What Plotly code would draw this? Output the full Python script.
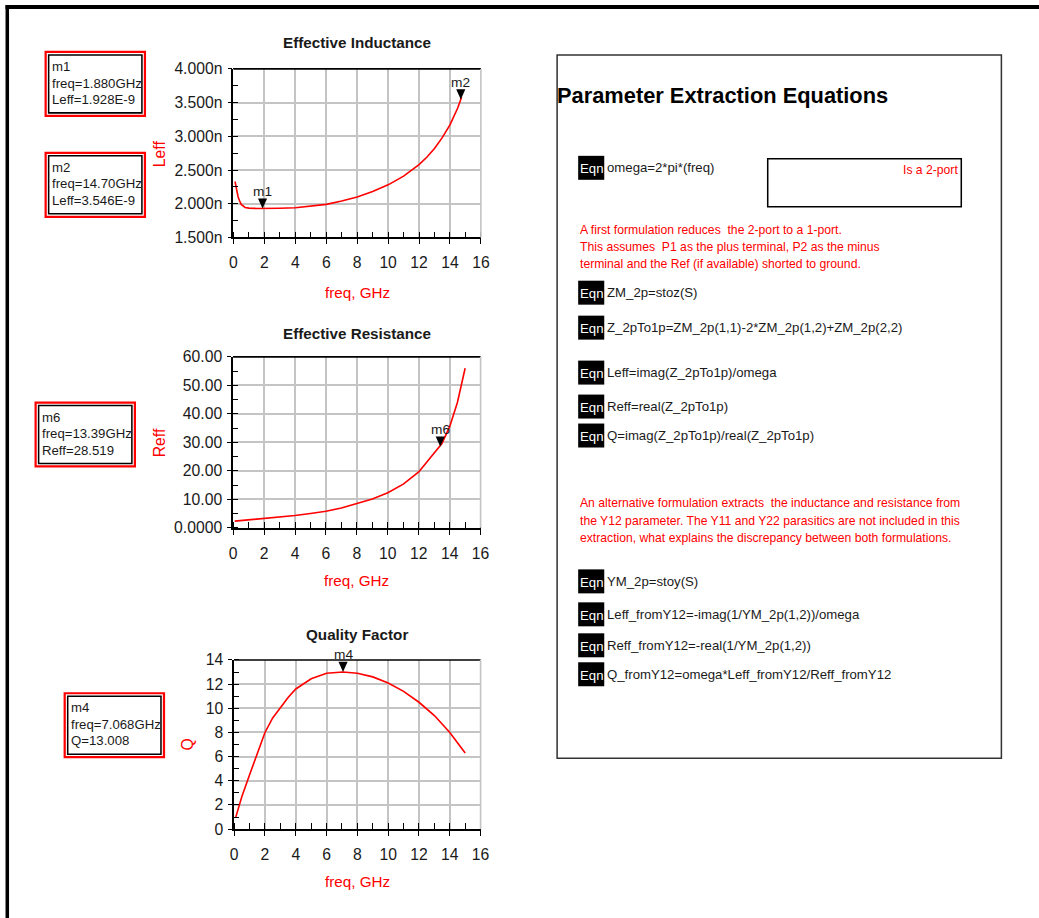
import plotly.graph_objects as go

W, H = 1039, 918            # layout coordinate space (pixels)
PAGE_W, PAGE_H = 1055, 934  # plot div size on the page
K = PAGE_W / W              # pixel sizes are scaled by this factor
DX = 2.5                    # horizontal nudge of the whole layout
FONT = "Liberation Sans, Arial, sans-serif"
RED = "#ff0000"
GRID = "#c4c4c4"
INK = "#1a1a1a"

# ---------------- data ----------------
freq_L = [0.1, 0.2, 0.3, 0.4, 0.5, 0.75, 1.0, 1.5, 2.0, 2.5, 3.0, 4.0, 5.0, 6.0, 7.0,
          8.0, 9.0, 10.0, 11.0, 12.0, 12.5, 13.0, 13.5, 14.0, 14.5, 14.75]
leff_nH = [2.33, 2.20, 2.10, 2.04, 1.99, 1.945, 1.935, 1.930, 1.928, 1.930, 1.933, 1.940,
           1.960, 1.990, 2.040, 2.100, 2.180, 2.280, 2.410, 2.580, 2.690, 2.820, 2.980,
           3.170, 3.420, 3.580]

freq_R = [0.1, 0.5, 1.0, 2.0, 3.0, 4.0, 5.0, 6.0, 7.0, 8.0, 9.0, 10.0, 11.0, 12.0,
          12.5, 13.0, 13.5, 14.0, 14.5, 15.0]
reff_ohm = [2.3, 2.5, 2.7, 3.1, 3.6, 4.3, 5.0, 5.8, 6.9, 8.4, 10.1, 12.3, 15.3, 19.6,
            22.8, 26.3, 29.6, 35.5, 44.0, 56.0]

freq_Q = [0.1, 0.5, 1.0, 1.5, 2.0, 2.5, 3.0, 3.5, 4.0, 5.0, 6.0, 7.068, 8.0, 9.0, 10.0,
          11.0, 12.0, 13.0, 14.0, 15.0]
q_factor = [0.97, 2.7, 4.5, 6.3, 8.0, 9.2, 10.1, 10.9, 11.6, 12.45, 12.9, 13.008, 12.9,
            12.6, 12.1, 11.4, 10.5, 9.4, 8.0, 6.3]

# markers: name, frequency (GHz), value
mark_L_names = ["m1", "m2"]
mark_L_freq = [1.880, 14.70]
mark_L_val = [1.928, 3.546]        # nH
mark_R_names = ["m6"]
mark_R_freq = [13.39]
mark_R_val = [28.519]
mark_Q_names = ["m4"]
mark_Q_freq = [7.068]
mark_Q_val = [13.008]

x_ticks = list(range(0, 17, 2))
leff_ticks = [1.5, 2.0, 2.5, 3.0, 3.5, 4.0]
leff_ticktext = ["1.500n", "2.000n", "2.500n", "3.000n", "3.500n", "4.000n"]
reff_ticks = [0, 10, 20, 30, 40, 50, 60]
reff_ticktext = ["0.0000", "10.00", "20.00", "30.00", "40.00", "50.00", "60.00"]
q_ticks = list(range(0, 15, 2))

equations = [
    "omega=2*pi*(freq)",
    "ZM_2p=stoz(S)",
    "Z_2pTo1p=ZM_2p(1,1)-2*ZM_2p(1,2)+ZM_2p(2,2)",
    "Leff=imag(Z_2pTo1p)/omega",
    "Reff=real(Z_2pTo1p)",
    "Q=imag(Z_2pTo1p)/real(Z_2pTo1p)",
    "YM_2p=stoy(S)",
    "Leff_fromY12=-imag(1/YM_2p(1,2))/omega",
    "Reff_fromY12=-real(1/YM_2p(1,2))",
    "Q_fromY12=omega*Leff_fromY12/Reff_fromY12",
]
note_1 = [
    "A first formulation reduces  the 2-port to a 1-port.",
    "This assumes  P1 as the plus terminal, P2 as the minus",
    "terminal and the Ref (if available) shorted to ground.",
]
note_2 = [
    "An alternative formulation extracts  the inductance and resistance from",
    "the Y12 parameter. The Y11 and Y22 parasitics are not included in this",
    "extraction, what explains the discrepancy between both formulations.",
]


def px(x):
    return (x + DX) / W


def py(y):
    return 1 - y / H


def k(v):
    return v * K


fig = go.Figure()
shapes = []
annotations = []


def text(x, y, s, size=13, color=INK, xanchor="left", bold=False, angle=0):
    annotations.append(dict(
        xref="paper", yref="paper", x=px(x), y=py(y), text=f"<b>{s}</b>" if bold else s,
        showarrow=False, xanchor=xanchor, yanchor="middle", textangle=angle,
        font=dict(family=FONT, size=k(size), color=color)))


def rect(x0, y0, x1, y1, color="black", width=1.5, fill=None):
    shapes.append(dict(type="rect", xref="paper", yref="paper",
                       x0=px(x0), y0=py(y0), x1=px(x1), y1=py(y1),
                       line=dict(color=color, width=k(width)),
                       fillcolor=fill if fill else "rgba(0,0,0,0)"))


def add_panel(idx, xdom, ydom, fx, fy, yrange, yticks, yticktext, ydtick_minor,
              title, ylabel, ylab_x, names, mf, mv, title_y, xt_y):
    sfx = "" if idx == 1 else str(idx)
    xa, ya = "x" + sfx, "y" + sfx
    fig.add_trace(go.Scatter(x=fx, y=fy, mode="lines", xaxis=xa, yaxis=ya,
                             line=dict(color=RED, width=k(1.6)), hoverinfo="skip",
                             showlegend=False))
    tick_font = dict(family=FONT, size=k(15.5), color=INK)
    fig.update_layout(**{
        "xaxis" + sfx: dict(
            domain=[px(xdom[0]), px(xdom[1])], anchor=ya, range=[0, 16],
            tickvals=x_ticks, showgrid=True, gridcolor=GRID, gridwidth=k(1.6),
            showline=True, linecolor="black", linewidth=k(1.6), zeroline=False,
            ticks="outside", ticklen=k(5), tickcolor="black", tickwidth=k(1.3),
            ticklabelstandoff=round(k(5)), tickfont=tick_font,
            minor=dict(dtick=1, ticks="inside", ticklen=k(6), tickcolor="black",
                       tickwidth=k(1.3), showgrid=False),
            fixedrange=True),
        "yaxis" + sfx: dict(
            domain=[py(ydom[1]), py(ydom[0])], anchor=xa, range=yrange,
            tickvals=yticks, ticktext=yticktext, showgrid=True, gridcolor=GRID,
            gridwidth=k(1.6), showline=True, linecolor="black", linewidth=k(1.6),
            zeroline=False, ticks="outside", ticklen=k(4), tickcolor="black",
            tickwidth=k(1.3), tickfont=tick_font, ticklabelstandoff=round(k(2)),
            minor=dict(dtick=ydtick_minor, ticks="inside", ticklen=k(5),
                       tickcolor="black", tickwidth=k(1.3), showgrid=False),
            fixedrange=True),
    })
    # top and right frame
    shapes.append(dict(type="line", xref=xa + " domain", yref=ya + " domain",
                       x0=0, x1=1, y0=1, y1=1, line=dict(color="black", width=k(1.6))))
    shapes.append(dict(type="line", xref=xa + " domain", yref=ya + " domain",
                       x0=1, x1=1, y0=0, y1=1, line=dict(color=GRID, width=k(1.6))))
    # marker triangles and labels
    tw, th = k(4.5), k(10)
    for n, f, v in zip(names, mf, mv):
        shapes.append(dict(type="path", xref=xa, yref=ya, xsizemode="pixel",
                           ysizemode="pixel", xanchor=f, yanchor=v,
                           path=f"M {-tw:.2f} {th:.2f} L {tw:.2f} {th:.2f} L 0 0 Z",
                           fillcolor="black", line=dict(width=0)))
        annotations.append(dict(xref=xa, yref=ya, x=f, y=v, text=n, showarrow=False,
                                xanchor="center", yanchor="middle", yshift=k(17),
                                font=dict(family=FONT, size=k(13.5), color=INK)))
    cx = (xdom[0] + xdom[1]) / 2
    text(cx, title_y, title, size=15, xanchor="center", bold=True)
    text(cx, xt_y, "freq, GHz", size=15, color=RED, xanchor="center")
    text(ylab_x, (ydom[0] + ydom[1]) / 2, ylabel, size=15.5, color=RED,
         xanchor="center", angle=-90)


add_panel(1, (234.3, 481), (69, 237.7), freq_L, leff_nH, [1.5, 4.0], leff_ticks,
          leff_ticktext, 0.25, "Effective Inductance", "Leff", 160,
          mark_L_names, mark_L_freq, mark_L_val, 43, 293)
add_panel(2, (234, 480.7), (357.3, 528.3), freq_R, reff_ohm, [0, 60], reff_ticks,
          reff_ticktext, 5, "Effective Resistance", "Reff", 160,
          mark_R_names, mark_R_freq, mark_R_val, 334, 581)
add_panel(3, (235, 480.7), (660.7, 830), freq_Q, q_factor, [0, 14], q_ticks,
          [str(t) for t in q_ticks], 1, "Quality Factor", "Q", 188,
          mark_Q_names, mark_Q_freq, mark_Q_val, 635, 882)


def sci(v):
    m, e = f"{v:.3E}".split("E")
    return f"{m}E{int(e)}"


# marker readout boxes
def readout(x0, y0, lines):
    rect(x0, y0, x0 + 99, y0 + 64, color=RED, width=2.2)
    rect(x0 + 3, y0 + 3, x0 + 96, y0 + 61, color="black", width=1.5)
    for i, s in enumerate(lines):
        text(x0 + 4, y0 + 14.5 + i * 16.6, s, size=13)


readout(47, 52, [mark_L_names[0], f"freq={mark_L_freq[0]:#.4g}GHz",
                 f"Leff={sci(mark_L_val[0] * 1e-9)}"])
readout(47, 153, [mark_L_names[1], f"freq={mark_L_freq[1]:#.4g}GHz",
                  f"Leff={sci(mark_L_val[1] * 1e-9)}"])
readout(37, 403, [mark_R_names[0], f"freq={mark_R_freq[0]:#.4g}GHz",
                  f"Reff={mark_R_val[0]:.3f}"])
readout(66, 694, [mark_Q_names[0], f"freq={mark_Q_freq[0]:#.4g}GHz",
                  f"Q={mark_Q_val[0]:.3f}"])

# page frame (top and left edges)
rect(7, 5, W + 2, 9, color="black", width=0, fill="black")
rect(7, 5, 10.5, H + 2, color="black", width=0, fill="black")

# equation panel
rect(557, 55, 1000, 759, color="#333333", width=1.5)
text(555, 96, "Parameter Extraction Equations", size=21.5, color="black", bold=True)
rect(767, 159, 960, 207, color="black", width=1.5)
text(959, 170, "Is a 2-port", size=12, color=RED, xanchor="right")

eq_rows = [168, 293, 328, 373, 407, 436, 582, 615, 646, 675]
for yc, eq in zip(eq_rows, equations):
    rect(578, yc - 12, 604, yc + 12, color="black", width=0, fill="black")
    text(591, yc + 1, "Eqn", size=13, color="white", xanchor="center")
    text(605, yc, eq, size=13)

for i, s in enumerate(note_1):
    text(578, 230 + i * 17, s, size=12, color=RED)
for i, s in enumerate(note_2):
    text(578, 504 + i * 17.5, s, size=12, color=RED)

fig.update_layout(
    margin=dict(l=0, r=0, t=0, b=0),
    paper_bgcolor="white", plot_bgcolor="white",
    shapes=shapes, annotations=annotations, showlegend=False,
)

# plot div sized to the page; negative margin cancels the default body margin
fig.write_html("out.html", default_width=f"{PAGE_W}px; margin:-8px",
               default_height=f"{PAGE_H}px")
